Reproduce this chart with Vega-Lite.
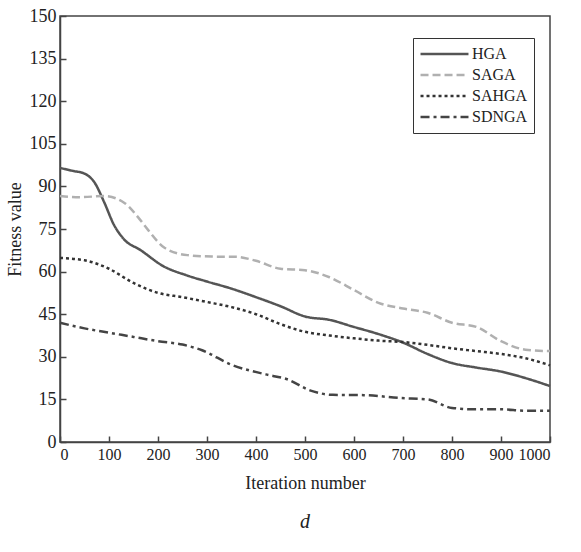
{
  "$schema": "https://vega.github.io/schema/vega-lite/v6.json",
  "width": 490,
  "height": 426,
  "autosize": "none",
  "padding": {"left": 60, "top": 16, "right": 31, "bottom": 110},
  "background": "white",
  "config": {
    "font": "Liberation Serif",
    "view": {"stroke": "#444", "strokeWidth": 1.5},
    "style": {"guide-label": {"font": "Liberation Serif"}, "guide-title": {"font": "Liberation Serif"}},
    "axis": {"grid": false, "domainColor": "#444", "domainWidth": 1.5, "tickColor": "#444", "tickWidth": 1.5, "labelFont": "Liberation Serif", "titleFont": "Liberation Serif", "labelColor": "#222", "titleColor": "#222", "titleFontWeight": "normal"},
    "legend": {"labelFont": "Liberation Serif"}
  },
  "title": {"text": "d", "orient": "bottom", "fontStyle": "italic", "fontWeight": "normal", "fontSize": 20, "font": "Liberation Serif", "color": "#222", "offset": 20},
  "data": {"values": [
    {"it": 0, "v": 96.5, "alg": "HGA"},
    {"it": 25, "v": 95.5, "alg": "HGA"},
    {"it": 50, "v": 94.5, "alg": "HGA"},
    {"it": 70, "v": 91.5, "alg": "HGA"},
    {"it": 90, "v": 84.5, "alg": "HGA"},
    {"it": 110, "v": 76.5, "alg": "HGA"},
    {"it": 130, "v": 71.5, "alg": "HGA"},
    {"it": 165, "v": 67.5, "alg": "HGA"},
    {"it": 210, "v": 62, "alg": "HGA"},
    {"it": 260, "v": 58.6, "alg": "HGA"},
    {"it": 300, "v": 56.5, "alg": "HGA"},
    {"it": 350, "v": 54, "alg": "HGA"},
    {"it": 400, "v": 51, "alg": "HGA"},
    {"it": 450, "v": 47.8, "alg": "HGA"},
    {"it": 500, "v": 44.2, "alg": "HGA"},
    {"it": 550, "v": 43, "alg": "HGA"},
    {"it": 600, "v": 40.5, "alg": "HGA"},
    {"it": 650, "v": 38, "alg": "HGA"},
    {"it": 700, "v": 35, "alg": "HGA"},
    {"it": 750, "v": 31, "alg": "HGA"},
    {"it": 800, "v": 27.8, "alg": "HGA"},
    {"it": 850, "v": 26.2, "alg": "HGA"},
    {"it": 900, "v": 24.8, "alg": "HGA"},
    {"it": 950, "v": 22.5, "alg": "HGA"},
    {"it": 1000, "v": 19.7, "alg": "HGA"},
    {"it": 0, "v": 86.6, "alg": "SAGA"},
    {"it": 40, "v": 86.2, "alg": "SAGA"},
    {"it": 90, "v": 86.6, "alg": "SAGA"},
    {"it": 133, "v": 84, "alg": "SAGA"},
    {"it": 160, "v": 79, "alg": "SAGA"},
    {"it": 180, "v": 74.6, "alg": "SAGA"},
    {"it": 214, "v": 68.3, "alg": "SAGA"},
    {"it": 260, "v": 65.8, "alg": "SAGA"},
    {"it": 310, "v": 65.3, "alg": "SAGA"},
    {"it": 360, "v": 65.2, "alg": "SAGA"},
    {"it": 400, "v": 63.8, "alg": "SAGA"},
    {"it": 450, "v": 61, "alg": "SAGA"},
    {"it": 500, "v": 60.5, "alg": "SAGA"},
    {"it": 550, "v": 58, "alg": "SAGA"},
    {"it": 600, "v": 53.5, "alg": "SAGA"},
    {"it": 650, "v": 49, "alg": "SAGA"},
    {"it": 700, "v": 47, "alg": "SAGA"},
    {"it": 750, "v": 45.5, "alg": "SAGA"},
    {"it": 800, "v": 42, "alg": "SAGA"},
    {"it": 850, "v": 40.5, "alg": "SAGA"},
    {"it": 900, "v": 35.5, "alg": "SAGA"},
    {"it": 950, "v": 32.5, "alg": "SAGA"},
    {"it": 1000, "v": 32, "alg": "SAGA"},
    {"it": 0, "v": 64.8, "alg": "SAHGA"},
    {"it": 50, "v": 64, "alg": "SAHGA"},
    {"it": 100, "v": 61, "alg": "SAHGA"},
    {"it": 150, "v": 56, "alg": "SAHGA"},
    {"it": 200, "v": 52.5, "alg": "SAHGA"},
    {"it": 250, "v": 51, "alg": "SAHGA"},
    {"it": 300, "v": 49.3, "alg": "SAHGA"},
    {"it": 350, "v": 47.5, "alg": "SAHGA"},
    {"it": 400, "v": 45, "alg": "SAHGA"},
    {"it": 450, "v": 41.5, "alg": "SAHGA"},
    {"it": 500, "v": 38.8, "alg": "SAHGA"},
    {"it": 550, "v": 37.5, "alg": "SAHGA"},
    {"it": 600, "v": 36.5, "alg": "SAHGA"},
    {"it": 650, "v": 35.7, "alg": "SAHGA"},
    {"it": 700, "v": 35.2, "alg": "SAHGA"},
    {"it": 750, "v": 34.2, "alg": "SAHGA"},
    {"it": 800, "v": 33, "alg": "SAHGA"},
    {"it": 850, "v": 32, "alg": "SAHGA"},
    {"it": 900, "v": 31, "alg": "SAHGA"},
    {"it": 950, "v": 29.5, "alg": "SAHGA"},
    {"it": 1000, "v": 27, "alg": "SAHGA"},
    {"it": 0, "v": 42, "alg": "SDNGA"},
    {"it": 50, "v": 40, "alg": "SDNGA"},
    {"it": 100, "v": 38.5, "alg": "SDNGA"},
    {"it": 150, "v": 37, "alg": "SDNGA"},
    {"it": 200, "v": 35.5, "alg": "SDNGA"},
    {"it": 250, "v": 34.3, "alg": "SDNGA"},
    {"it": 290, "v": 32.3, "alg": "SDNGA"},
    {"it": 350, "v": 27.2, "alg": "SDNGA"},
    {"it": 420, "v": 23.8, "alg": "SDNGA"},
    {"it": 465, "v": 22, "alg": "SDNGA"},
    {"it": 510, "v": 18.2, "alg": "SDNGA"},
    {"it": 557, "v": 16.6, "alg": "SDNGA"},
    {"it": 620, "v": 16.5, "alg": "SDNGA"},
    {"it": 694, "v": 15.5, "alg": "SDNGA"},
    {"it": 750, "v": 15, "alg": "SDNGA"},
    {"it": 800, "v": 12, "alg": "SDNGA"},
    {"it": 850, "v": 11.5, "alg": "SDNGA"},
    {"it": 900, "v": 11.5, "alg": "SDNGA"},
    {"it": 950, "v": 11, "alg": "SDNGA"},
    {"it": 1000, "v": 11, "alg": "SDNGA"}
  ]},
  "mark": {"type": "line", "interpolate": "monotone", "strokeWidth": 2.5},
  "encoding": {
    "x": {"field": "it", "type": "quantitative", "title": "Iteration number",
      "scale": {"domain": [0, 1000], "nice": false},
      "axis": {"values": [0,100,200,300,400,500,600,700,800,900,1000], "format": "d", "labelOverlap": false, "labelBound": false, "tickSize": -6, "labelPadding": 10, "titlePadding": 12, "labelFont": "Liberation Serif", "titleFont": "Liberation Serif", "labelFontSize": 16, "titleFontSize": 18}},
    "y": {"field": "v", "type": "quantitative", "title": "Fitness value",
      "scale": {"domain": [0, 150], "nice": false},
      "axis": {"values": [0,15,30,45,60,75,90,105,120,135,150], "format": "d", "labelOverlap": false, "tickSize": -6, "labelPadding": 10, "titlePadding": 5, "labelFont": "Liberation Serif", "titleFont": "Liberation Serif", "labelFontSize": 18, "titleFontSize": 18}},
    "color": {"field": "alg", "type": "nominal", "title": null,
      "scale": {"domain": ["HGA", "SAGA", "SAHGA", "SDNGA"], "range": ["#555555", "#b0b0b0", "#333333", "#444444"]},
      "legend": {"orient": "none", "legendX": 353, "legendY": 22, "strokeColor": "#333", "padding": 6, "symbolType": "stroke", "symbolSize": 2300, "clipHeight": 20, "symbolStrokeWidth": 2.5, "labelFontSize": 16, "labelFont": "Liberation Serif", "labelColor": "#222", "rowPadding": 1, "labelOffset": 2}},
    "strokeDash": {"field": "alg", "type": "nominal", "title": null,
      "scale": {"domain": ["HGA", "SAGA", "SAHGA", "SDNGA"], "range": [[1, 0], [8, 4], [3, 3], [9, 4, 3, 4]]}}
  }
}
